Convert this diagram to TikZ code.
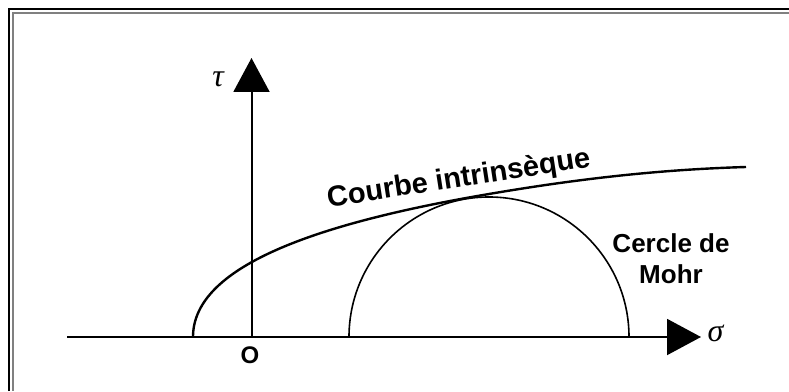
\documentclass[tikz,border=0pt]{standalone}
\usepackage{fontspec}
\setmainfont{Liberation Sans}
\newfontfamily\grec{Liberation Serif}
\usetikzlibrary{arrows.meta}

\tikzset{
  axe/.style={line width=2pt},
  tete/.style={-{Triangle[length=34pt,width=36pt]}},
  label/.style={font=\fontsize{26}{31}\selectfont\bfseries, align=center},
  lettre/.style={font=\fontsize{32}{32}\selectfont\grec\itshape}
}

\begin{document}
\begin{tikzpicture}[x=1pt,y=1pt]

\useasboundingbox (0,0) rectangle (789,391);

% Cadre
\draw[line width=1.6pt] (9,0) -- (9,382) -- (789,382);
\draw[line width=1.6pt, gray] (13,0) -- (13,378) -- (789,378);

% Axes
\coordinate (o) at (251.5,54);
\coordinate (g) at (67,54);
\coordinate (d) at (701,54);
\coordinate (h) at (251.5,333);

\draw[axe, tete] (g) -- (d);
\draw[axe, tete] (o) -- (h);

\node[lettre, anchor=west] (sigma) at (704,58) {σ};
\node[lettre] (tau) at (218,312) {τ};
\node[label, font=\fontsize{24}{24}\selectfont\bfseries] (orig) at (250,36) {O};

% Cercle de Mohr
\draw[line width=1.6pt] (629,54) arc (0:180:140);
\node[label] (mohr) at (671,132) {Cercle de\\Mohr};

% Courbe intrinseque
\draw[line width=2.4pt] (193,54) .. controls (193,120) and (300,165) .. (489,197)
  .. controls (600,216) and (680,222) .. (746,224);
\node[label, font=\fontsize{29}{29}\selectfont\bfseries, anchor=base, rotate=8.8] (courbe) at (460,204) {Courbe intrinsèque};

\end{tikzpicture}
\end{document}
